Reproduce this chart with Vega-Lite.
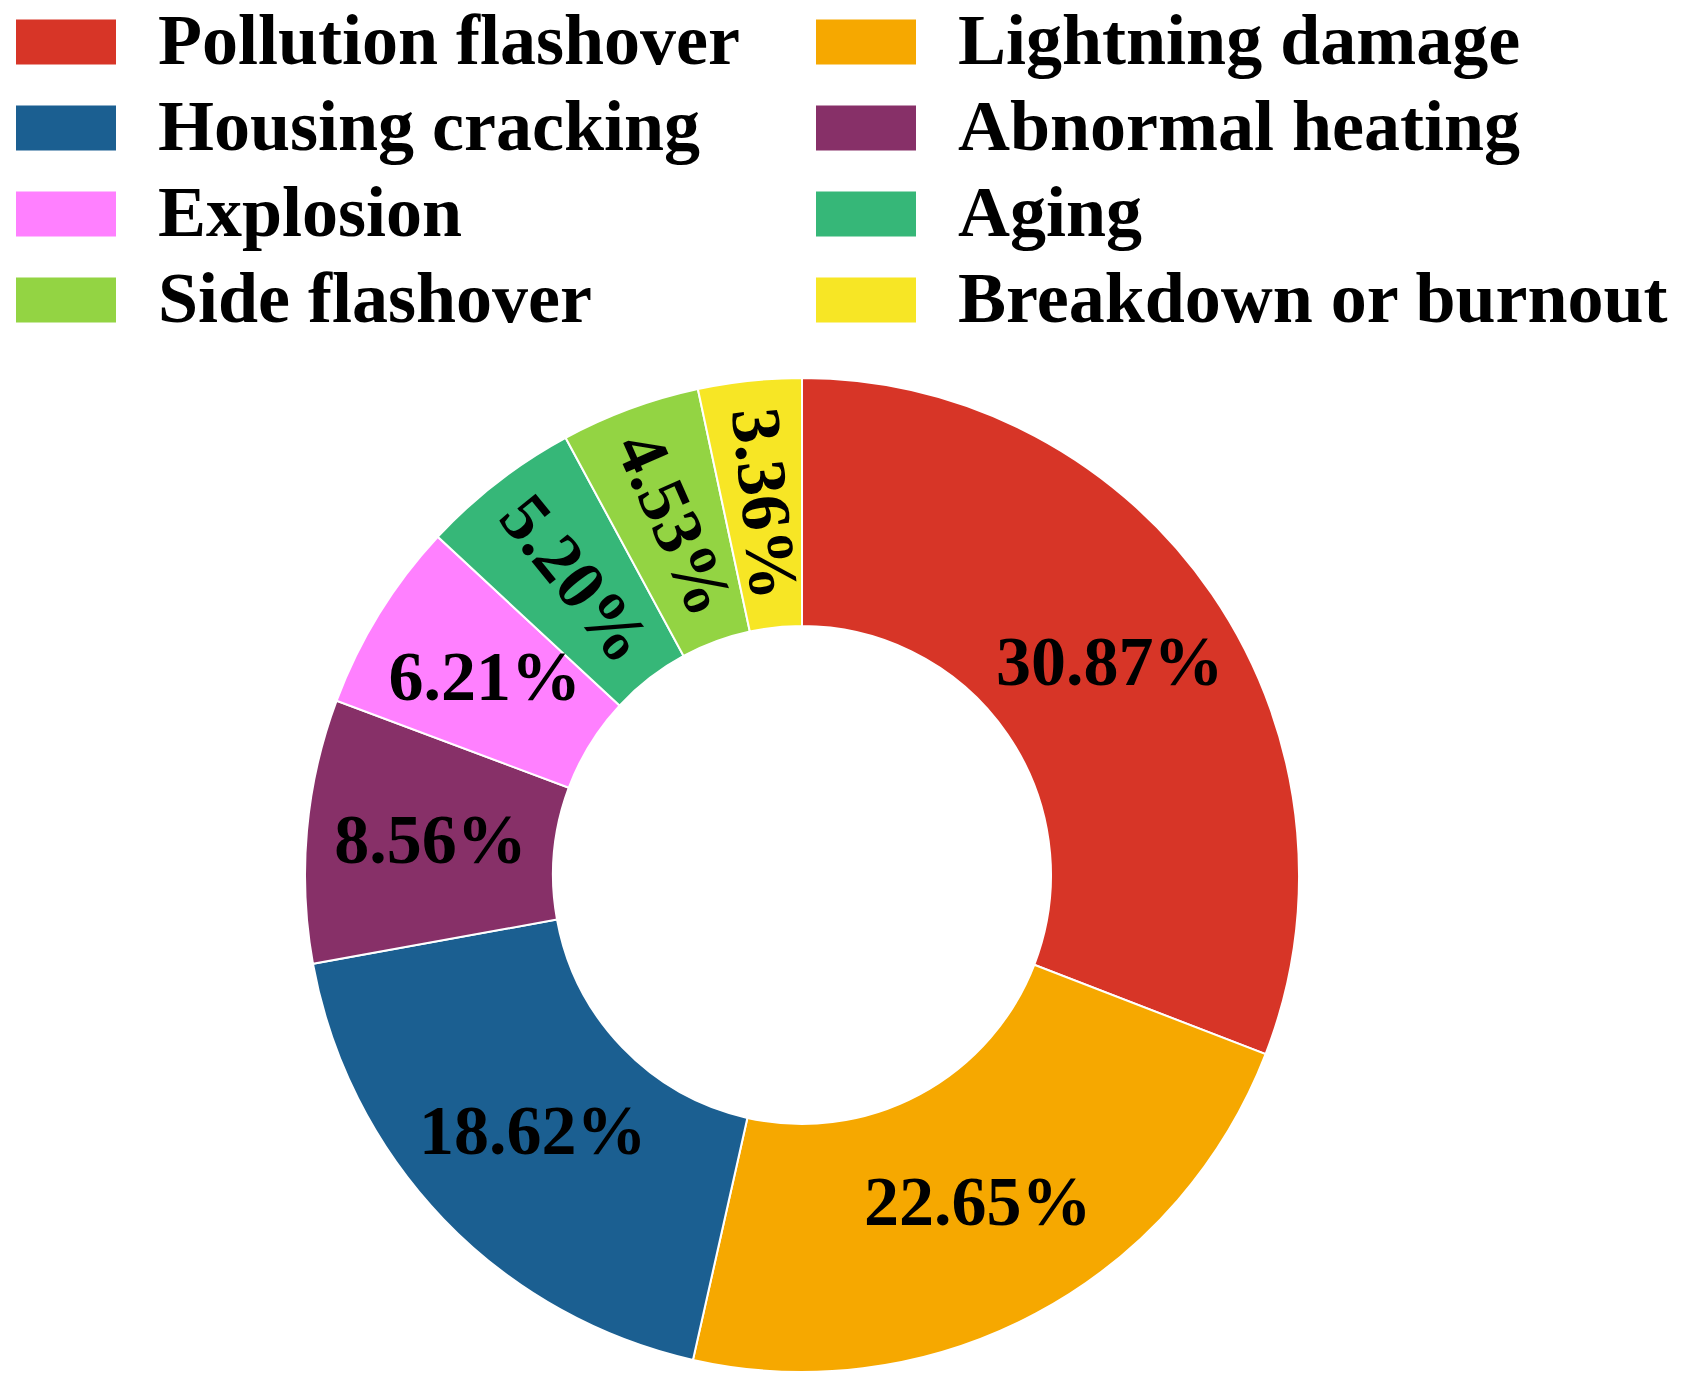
{
  "$schema": "https://vega.github.io/schema/vega-lite/v6.json",
  "autosize": "none",
  "width": 1604,
  "height": 1022,
  "padding": {"left": 0, "top": 364, "right": 79, "bottom": 0},
  "background": "white",
  "data": {
    "values": [
      {"cause": "Pollution flashover", "share": 0.3087},
      {"cause": "Lightning damage", "share": 0.2265},
      {"cause": "Housing cracking", "share": 0.1862},
      {"cause": "Abnormal heating", "share": 0.0856},
      {"cause": "Explosion", "share": 0.0621},
      {"cause": "Aging", "share": 0.0520},
      {"cause": "Side flashover", "share": 0.0453},
      {"cause": "Breakdown or burnout", "share": 0.0336}
    ]
  },
  "encoding": {
    "theta": {"field": "share", "type": "quantitative", "stack": true},
    "order": {"field": "share", "sort": "descending"}
  },
  "layer": [
    {
      "mark": {"type": "arc", "outerRadius": 497, "innerRadius": 249, "stroke": "white", "strokeWidth": 2},
      "encoding": {
        "color": {
          "field": "cause",
          "type": "nominal",
          "scale": {
            "domain": ["Pollution flashover", "Lightning damage", "Housing cracking", "Abnormal heating", "Explosion", "Aging", "Side flashover", "Breakdown or burnout"],
            "range": ["#D73527", "#F6A800", "#1B5F91", "#873068", "#FF80FF", "#36B778", "#93D443", "#F7E625"]
          },
          "legend": {
            "title": null,
            "orient": "none",
            "legendX": 16,
            "legendY": -372,
            "columns": 2,
            "direction": "horizontal",
            "symbolType": "M-1,-0.45H1V0.45H-1Z",
            "symbolSize": 10000,
            "symbolStrokeWidth": 0,
            "symbolOpacity": 1,
            "labelFont": "Liberation Serif",
            "labelFontWeight": "bold",
            "labelFontSize": 72,
            "labelColor": "black",
            "labelOffset": 42,
            "labelLimit": 2000,
            "rowPadding": 0,
            "columnPadding": 75
          }
        }
      }
    },
    {
      "mark": {"type": "text", "radius": 373, "font": "Liberation Serif", "fontWeight": "bold", "fontSize": 70, "color": "black", "align": "center", "baseline": "middle"},
      "encoding": {
        "text": {"field": "share", "type": "quantitative", "format": ".2%"},
        "angle": {
          "condition": [
            {"test": "datum.cause === 'Breakdown or burnout'", "value": 84},
            {"test": "datum.cause === 'Side flashover'", "value": 66},
            {"test": "datum.cause === 'Aging'", "value": 51}
          ],
          "value": 0
        }
      }
    }
  ]
}
